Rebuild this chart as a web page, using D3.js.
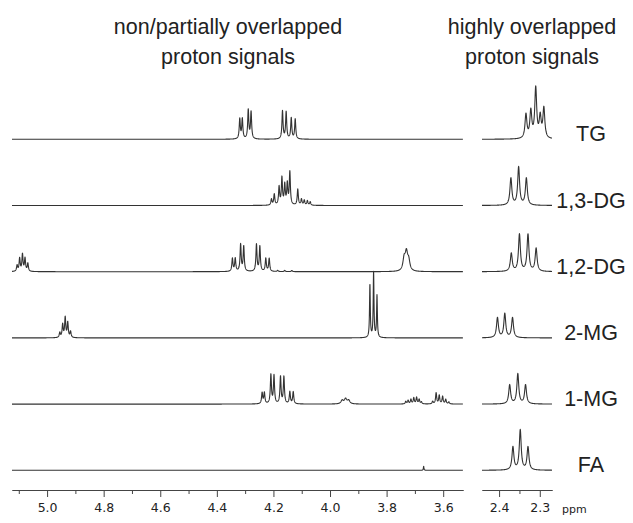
<!DOCTYPE html>
<html>
<head>
<meta charset="utf-8">
<script src="https://cdn.jsdelivr.net/npm/d3@7"></script>
<style>
  body { margin: 0; background: #fff; }
  svg text { font-family: "Liberation Sans", Arial, sans-serif; fill: #222; }
  .axis text { font-family: "DejaVu Sans", Verdana, sans-serif; font-size: 12.5px; fill: #222; }
  .axis path, .axis line { stroke: #444; }
</style>
</head>
<body>
<div id="chart"></div>
<script>
// spectra, top to bottom
var compounds = ["TG", "1,3-DG", "1,2-DG", "2-MG", "1-MG", "FA"];

// peak lists: [ppm, intensity, half width (optional)]
// left window, 5.1 - 3.55 ppm
var tgLeft = [[4.319, 20], [4.310, 20], [4.289, 29], [4.279, 27],
              [4.168, 28], [4.155, 27], [4.137, 21], [4.123, 20]];
var dg13Left = [[4.207, 6], [4.197, 11], [4.180, 18], [4.170, 27], [4.160, 20],
                [4.151, 21], [4.142, 33], [4.114, 16], [4.101, 6], [4.091, 5],
                [4.080, 4.5], [4.070, 3.5]];
var dg12Left = [[5.106, 6], [5.097, 13], [5.087, 17], [5.078, 13], [5.068, 8],
                [4.345, 13], [4.335, 13], [4.316, 27], [4.305, 25],
                [4.260, 27], [4.248, 25], [4.227, 13], [4.215, 13],
                [4.185, 1.2], [4.160, 1.2], [4.135, 1.2],
                [3.738, 12, 0.005], [3.730, 17, 0.005], [3.722, 10, 0.005]];
var mg2Left = [[4.955, 5], [4.945, 13], [4.936, 20], [4.927, 15], [4.917, 6],
               [3.859, 53, 0.0016], [3.846, 65, 0.0016], [3.834, 42, 0.0016]];
var mg1Left = [[4.240, 11], [4.232, 11], [4.209, 29], [4.198, 28],
               [4.175, 27], [4.163, 27], [4.142, 12], [4.130, 12],
               [3.957, 3.5, 0.005], [3.945, 5, 0.005], [3.934, 3.5, 0.005],
               [3.732, 2.5], [3.724, 3.5], [3.714, 4.5], [3.704, 6], [3.694, 6.5],
               [3.685, 4.5], [3.677, 2],
               [3.637, 2.5], [3.625, 11], [3.614, 8.5], [3.602, 7.5], [3.591, 4.5],
               [3.580, 2]];
var faLeft = [[3.669, 4, 0.0012]];

// right window, 2.44 - 2.27 ppm
var tgRight = [[2.334, 24], [2.322, 27], [2.310, 50], [2.299, 21], [2.290, 30]];
var dg13Right = [[2.371, 27], [2.352, 38], [2.333, 27]];
var dg12Right = [[2.370, 18], [2.350, 37], [2.329, 37], [2.309, 23]];
var mg2Right = [[2.404, 20], [2.386, 24], [2.367, 20]];
var mg1Right = [[2.374, 19], [2.354, 30], [2.335, 19]];
var faRight = [[2.366, 23], [2.348, 40], [2.329, 23]];

var leftTicks = [5.0, 4.8, 4.6, 4.4, 4.2, 4.0, 3.8, 3.6];
var leftMinor = [5.1, 4.9, 4.7, 4.5, 4.3, 4.1, 3.9, 3.7];
var rightTicks = [2.4, 2.3];
var rightMinor = [2.35];

var table = [
    {name: "TG", left: tgLeft, right: tgRight},
    {name: "1,3-DG", left: dg13Left, right: dg13Right},
    {name: "1,2-DG", left: dg12Left, right: dg12Right},
    {name: "2-MG", left: mg2Left, right: mg2Right},
    {name: "1-MG", left: mg1Left, right: mg1Right},
    {name: "FA", left: faLeft, right: faRight}
];

var width = 633, height = 523;

var svg = d3.select("#chart")
    .append("svg")
    .attr("width", width)
    .attr("height", height);

// ppm axes run right to left
var xLeft = d3.scaleLinear().domain([5.124, 3.530]).range([12, 463]);
var xRight = d3.scaleLinear().domain([2.442, 2.270]).range([482, 552]);

// baseline of each spectrum
var rowY = d3.scalePoint().domain(compounds).range([139.3, 470.3]);
var amp = d3.scaleLinear().domain([0, 70]).range([0, 70]);

// sum of lorentzian lines over the window
function spectrum(peaks, scale, hw) {
    var dom = scale.domain();
    return d3.range(dom[0], dom[1], -0.0004).map(function (p) {
        var v = d3.sum(peaks, function (pk) {
            var d = (p - pk[0]) / (pk[2] || hw);
            return pk[1] / (1 + d * d);
        });
        return [p, v];
    });
}

table.forEach(function (row) {
    var base = rowY(row.name);
    var g = svg.append("g");

    [[row.left, xLeft, 0.0023], [row.right, xRight, 0.0028]].forEach(function (w) {
        var x = w[1];
        var line = d3.line()
            .x(function (d) { return x(d[0]); })
            .y(function (d) { return base - amp(d[1]); });
        g.append("path")
            .datum(spectrum(w[0], x, w[2]))
            .attr("d", line)
            .attr("fill", "none")
            .attr("stroke", "#333")
            .attr("stroke-width", 1.1)
            .attr("stroke-linejoin", "round");
    });

    g.append("text")
        .attr("x", 591)
        .attr("y", base + 2)
        .attr("text-anchor", "middle")
        .style("font-size", "21.5px")
        .text(row.name);
});

// axes
var axisY = 490;
function drawAxis(scale, major, minor) {
    svg.append("g")
        .attr("class", "axis")
        .attr("transform", "translate(0," + axisY + ")")
        .call(d3.axisBottom(scale).tickValues(major).tickFormat(d3.format(".1f"))
            .tickSize(7).tickSizeOuter(0).tickPadding(6));
    svg.append("g")
        .attr("class", "axis")
        .attr("transform", "translate(0," + axisY + ")")
        .call(d3.axisBottom(scale).tickValues(minor).tickFormat("")
            .tickSize(4).tickSizeOuter(0));
}
drawAxis(xLeft, leftTicks, leftMinor);
drawAxis(xRight, rightTicks, rightMinor);

svg.append("text")
    .attr("x", 562)
    .attr("y", 513)
    .style("font-family", "DejaVu Sans, Verdana, sans-serif")
    .style("font-size", "11px")
    .text("ppm");

// panel titles
var titles = [
    {x: 228, lines: ["non/partially overlapped", "proton signals"]},
    {x: 532, lines: ["highly overlapped", "proton signals"]}
];
titles.forEach(function (t) {
    t.lines.forEach(function (s, i) {
        svg.append("text")
            .attr("x", t.x)
            .attr("y", 34 + i * 30)
            .attr("text-anchor", "middle")
            .style("font-size", "21.5px")
            .text(s);
    });
});
</script>
</body>
</html>
